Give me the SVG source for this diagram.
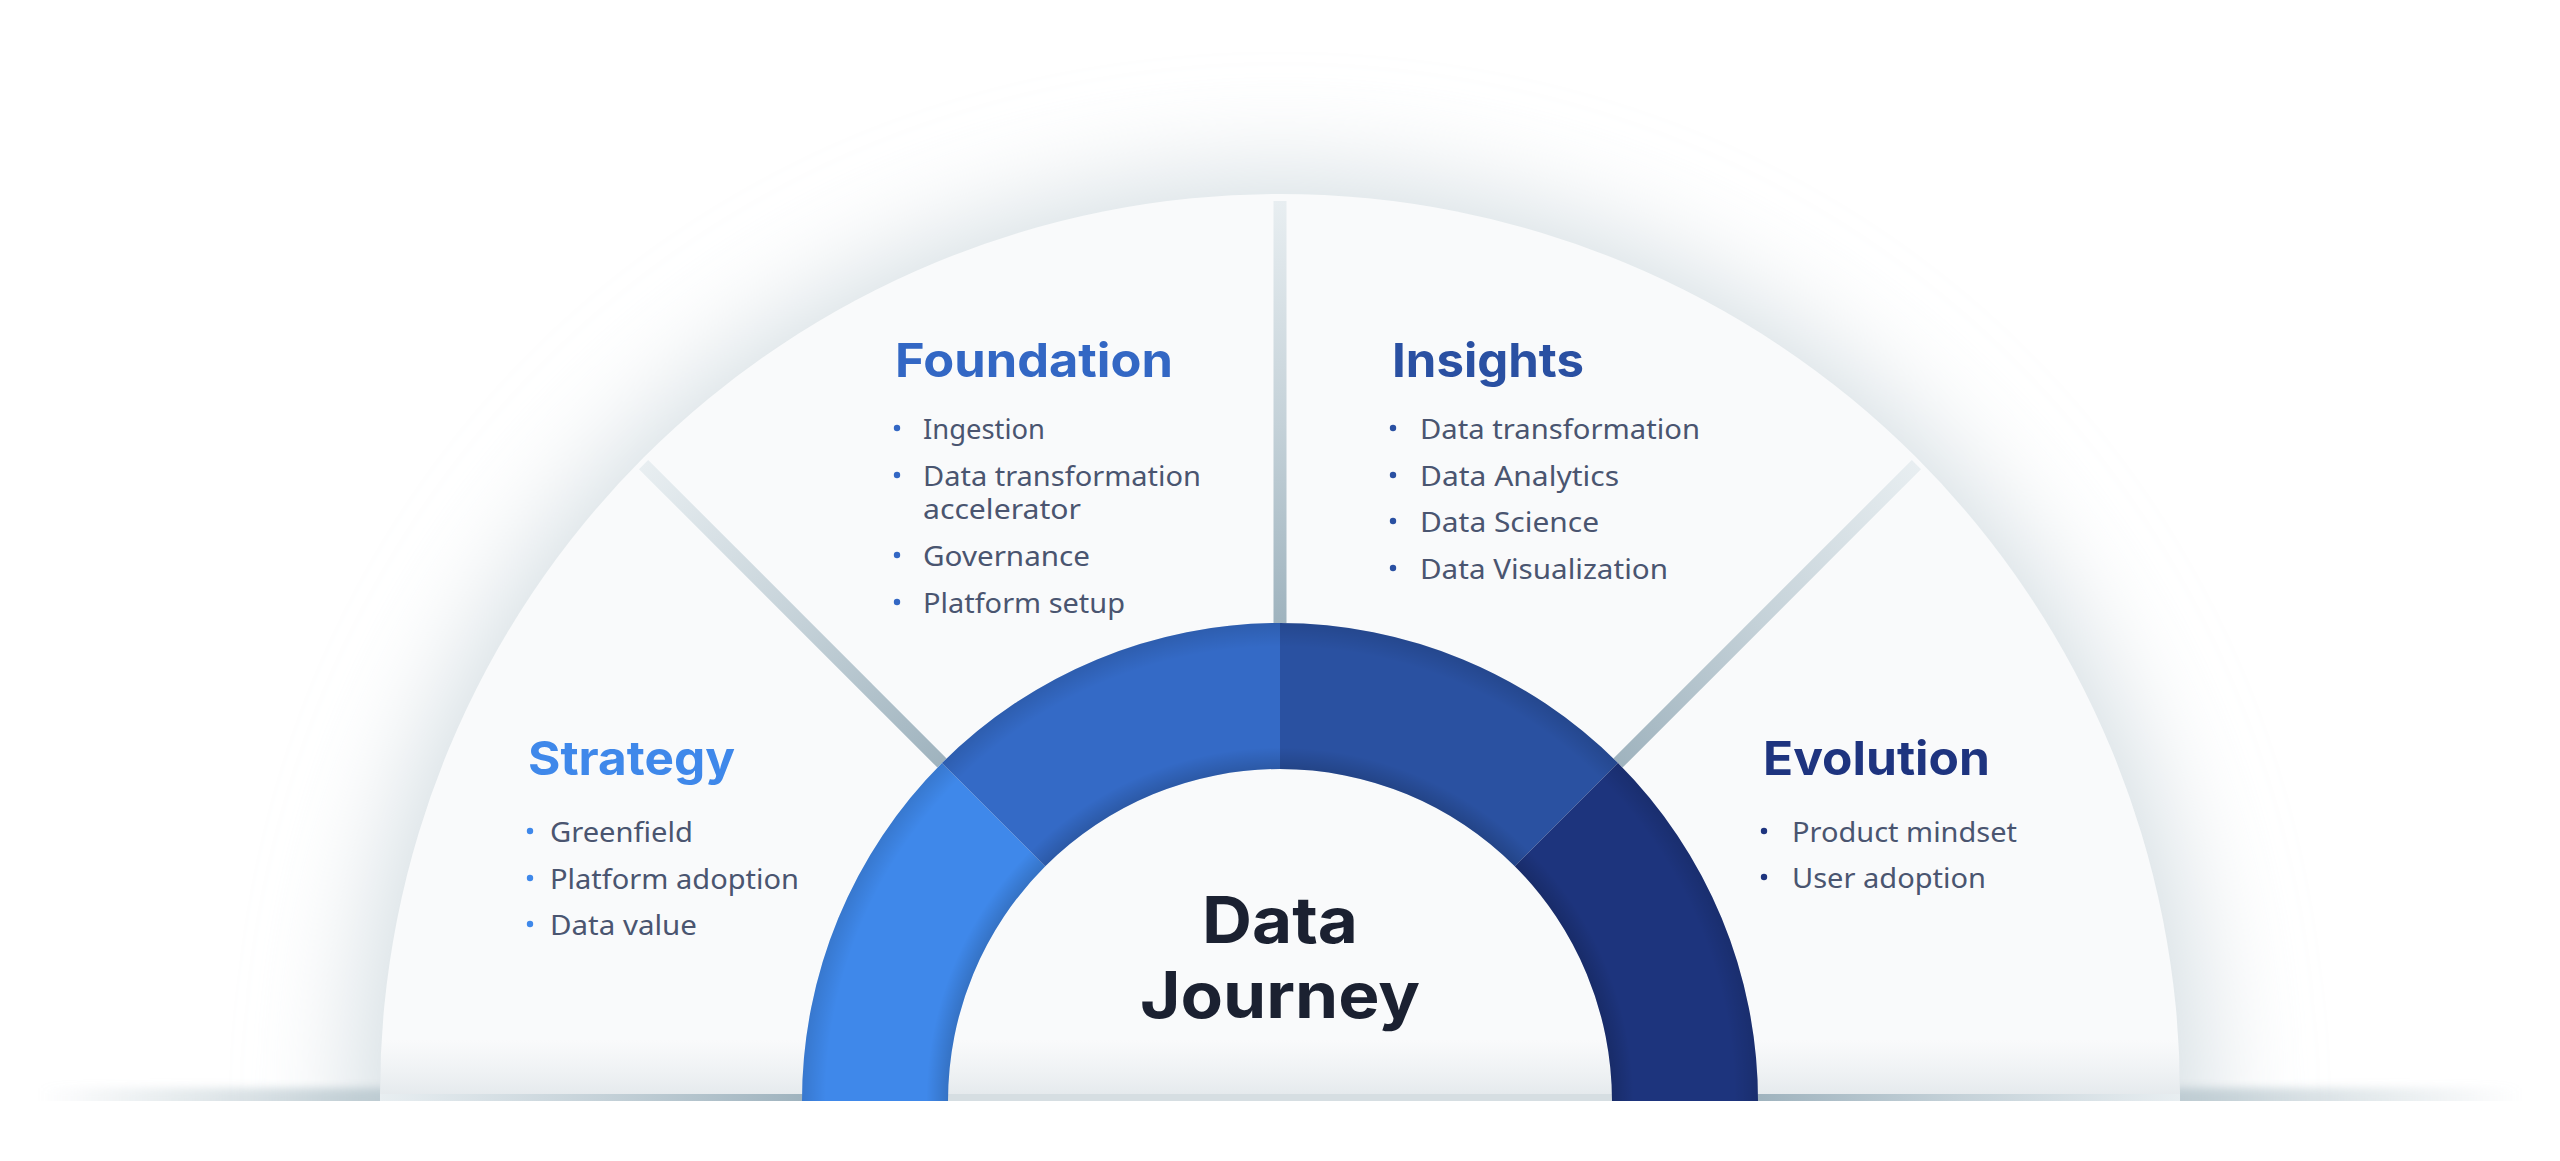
<svg xmlns="http://www.w3.org/2000/svg" width="2560" height="1161" viewBox="0 0 2560 1161">
<style>
.title{font-family:Inter,"Open Sans","Liberation Sans",sans-serif;font-weight:700;font-size:47px}
.item{font-family:"Noto Sans","Open Sans","Liberation Sans",sans-serif;font-size:28px;fill:#4a5570}
.center{font-family:Inter,"Open Sans","Liberation Sans",sans-serif;font-weight:700;font-size:64px;fill:#1b2131}
</style>
<defs>
<filter id="glow" x="-30%" y="-30%" width="160%" height="160%"><feGaussianBlur stdDeviation="55"/></filter>
<filter id="soft" x="-5%" y="-200%" width="110%" height="500%"><feGaussianBlur stdDeviation="4"/></filter>
<clipPath id="above"><rect x="0" y="0" width="2560" height="1101"/></clipPath>
<radialGradient id="gap" gradientUnits="userSpaceOnUse" cx="1280" cy="1101" r="900">
<stop offset="0.53" stop-color="#9fb3be"/>
<stop offset="0.75" stop-color="#c4d1d8"/>
<stop offset="1" stop-color="#e8eef1"/>
</radialGradient>
<linearGradient id="floor" x1="40" y1="0" x2="2520" y2="0" gradientUnits="userSpaceOnUse">
<stop offset="0" stop-color="#b9c8cf" stop-opacity="0"/>
<stop offset="0.14" stop-color="#b9c8cf" stop-opacity="0.9"/>
<stop offset="0.86" stop-color="#b9c8cf" stop-opacity="0.9"/>
<stop offset="1" stop-color="#b9c8cf" stop-opacity="0"/>
</linearGradient>
<linearGradient id="bottomShade" x1="0" y1="1040" x2="0" y2="1101" gradientUnits="userSpaceOnUse">
<stop offset="0" stop-color="#dde4e8" stop-opacity="0"/>
<stop offset="1" stop-color="#d3dbe0" stop-opacity="1"/>
</linearGradient>
<radialGradient id="ringEdge" gradientUnits="userSpaceOnUse" cx="1280" cy="1101" r="478">
<stop offset="0.695" stop-color="#000" stop-opacity="0.16"/>
<stop offset="0.74" stop-color="#000" stop-opacity="0"/>
<stop offset="0.95" stop-color="#000" stop-opacity="0"/>
<stop offset="1" stop-color="#000" stop-opacity="0.12"/>
</radialGradient>
</defs>

<g id="background">
<rect x="0" y="0" width="2560" height="1161" fill="#ffffff"/>
<g clip-path="url(#above)">
<path d="M360,1101 A920,920 0 0 1 2200,1101 L2200,1300 L360,1300 Z" fill="#d2dce1" filter="url(#glow)"/>
<rect x="40" y="1088" width="2480" height="30" fill="url(#floor)" filter="url(#soft)"/>
</g>
</g>

<g id="panels">
<path d="M380,1094 A900,900 0 0 1 2180,1094 Z" fill="#f9fafb"/>
<rect x="380" y="1040" width="1800" height="54" fill="url(#bottomShade)" opacity="0.6"/>
<rect x="380" y="1094" width="422" height="7" fill="url(#gap)"/>
<rect x="1758" y="1094" width="422" height="7" fill="url(#gap)"/>
<rect x="948" y="1094" width="664" height="7" fill="#d6dee2"/>
</g>

<g id="connectors" stroke="url(#gap)" stroke-width="13" fill="none">
<line x1="942" y1="763" x2="643.6" y2="464.6"/>
<line x1="1280" y1="623" x2="1280" y2="201"/>
<line x1="1618" y1="763" x2="1916.4" y2="464.6"/>
</g>

<g id="ring">
<path d="M802,1101 A478,478 0 0 1 942,763 L1045.24,866.24 A332,332 0 0 0 948,1101 Z" fill="#3f88ea"/>
<path d="M942,763 A478,478 0 0 1 1280,623 L1280,769 A332,332 0 0 0 1045.24,866.24 Z" fill="#346ac6"/>
<path d="M1280,623 A478,478 0 0 1 1618,763 L1514.76,866.24 A332,332 0 0 0 1280,769 Z" fill="#2a51a1"/>
<path d="M1618,763 A478,478 0 0 1 1758,1101 L1612,1101 A332,332 0 0 0 1514.76,866.24 Z" fill="#1d347d"/>
<path d="M802,1101 A478,478 0 0 1 1758,1101 L1612,1101 A332,332 0 0 0 948,1101 Z" fill="url(#ringEdge)"/>
</g>

<g id="center">
<text class="center" x="1280" y="943" text-anchor="middle" textLength="156" lengthAdjust="spacingAndGlyphs">Data</text>
<text class="center" x="1280" y="1018" text-anchor="middle" textLength="280" lengthAdjust="spacingAndGlyphs">Journey</text>
</g>

<g id="strategy">
<text class="title" x="528" y="775" fill="#3f88ea" textLength="207" lengthAdjust="spacingAndGlyphs">Strategy</text>
<g fill="#3f88ea"><circle cx="530" cy="831" r="3.2"/><circle cx="530" cy="878" r="3.2"/><circle cx="530" cy="924" r="3.2"/></g>
<text class="item" x="550" y="842" textLength="143" lengthAdjust="spacingAndGlyphs">Greenfield</text>
<text class="item" x="550" y="889" textLength="249" lengthAdjust="spacingAndGlyphs">Platform adoption</text>
<text class="item" x="550" y="935" textLength="147" lengthAdjust="spacingAndGlyphs">Data value</text>
</g>

<g id="foundation">
<text class="title" x="895" y="377" fill="#3367c4" textLength="278" lengthAdjust="spacingAndGlyphs">Foundation</text>
<g fill="#3367c4"><circle cx="897" cy="428" r="3.2"/><circle cx="897" cy="475" r="3.2"/><circle cx="897" cy="555" r="3.2"/><circle cx="897" cy="602" r="3.2"/></g>
<text class="item" x="923" y="439" textLength="122" lengthAdjust="spacingAndGlyphs">Ingestion</text>
<text class="item" x="923" y="486" textLength="278" lengthAdjust="spacingAndGlyphs">Data transformation</text>
<text class="item" x="923" y="519" textLength="158" lengthAdjust="spacingAndGlyphs">accelerator</text>
<text class="item" x="923" y="566" textLength="167" lengthAdjust="spacingAndGlyphs">Governance</text>
<text class="item" x="923" y="613" textLength="202" lengthAdjust="spacingAndGlyphs">Platform setup</text>
</g>

<g id="insights">
<text class="title" x="1392" y="377" fill="#2a50a2" textLength="192" lengthAdjust="spacingAndGlyphs">Insights</text>
<g fill="#2a50a2"><circle cx="1393" cy="428" r="3.2"/><circle cx="1393" cy="475" r="3.2"/><circle cx="1393" cy="521" r="3.2"/><circle cx="1393" cy="568" r="3.2"/></g>
<text class="item" x="1420" y="439" textLength="280" lengthAdjust="spacingAndGlyphs">Data transformation</text>
<text class="item" x="1420" y="486" textLength="199" lengthAdjust="spacingAndGlyphs">Data Analytics</text>
<text class="item" x="1420" y="532" textLength="179" lengthAdjust="spacingAndGlyphs">Data Science</text>
<text class="item" x="1420" y="579" textLength="248" lengthAdjust="spacingAndGlyphs">Data Visualization</text>
</g>

<g id="evolution">
<text class="title" x="1763" y="775" fill="#1e347f" textLength="227" lengthAdjust="spacingAndGlyphs">Evolution</text>
<g fill="#1e347f"><circle cx="1764" cy="831" r="3.2"/><circle cx="1764" cy="877" r="3.2"/></g>
<text class="item" x="1792" y="842" textLength="225" lengthAdjust="spacingAndGlyphs">Product mindset</text>
<text class="item" x="1792" y="888" textLength="194" lengthAdjust="spacingAndGlyphs">User adoption</text>
</g>
</svg>
